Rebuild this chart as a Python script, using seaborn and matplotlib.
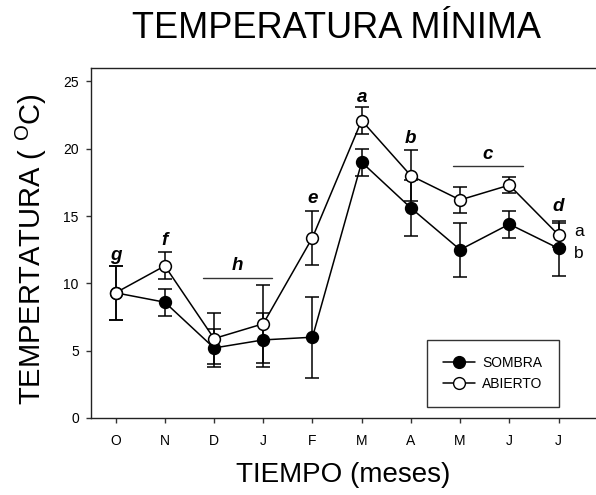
import numpy as np
import pandas as pd
import matplotlib
matplotlib.use("Agg")
import matplotlib.pyplot as plt
from matplotlib.lines import Line2D
import seaborn as sns

# Monthly minimum temperature (°C), mean ± error for each site condition
meses = ["O", "N", "D", "J", "F", "M", "A", "M", "J", "J"]
sombra = [9.3, 8.6, 5.2, 5.8, 6.0, 19.0, 15.6, 12.5, 14.4, 12.6]
sombra_err = [2.0, 1.0, 1.4, 2.0, 3.0, 1.0, 2.1, 2.0, 1.0, 2.05]
abierto = [9.3, 11.3, 5.9, 7.0, 13.4, 22.1, 18.0, 16.2, 17.3, 13.6]
abierto_err = [2.0, 1.0, 1.9, 2.9, 2.0, 1.0, 1.9, 0.95, 0.6, 0.9]

# Significance letters per month (bold italic) and between-site letters
letras = ["g", "f", "h", "h", "e", "a", "b", "c", "c", "d"]
letras_y = [12.1, 13.2, 11.3, 11.3, 16.3, 23.8, 20.8, 19.6, 19.6, 15.7]

x = np.arange(len(meses))
df = pd.DataFrame({
    "x": np.concatenate([x, x]),
    "temp": sombra + abierto,
    "err": sombra_err + abierto_err,
    "sitio": ["SOMBRA"] * len(x) + ["ABIERTO"] * len(x),
})

sns.set_style("ticks")
plt.rcParams["font.family"] = ["Liberation Sans", "DejaVu Sans"]
plt.rcParams["mathtext.fontset"] = "custom"
plt.rcParams["mathtext.rm"] = "Liberation Sans"
for k in ["text.color", "axes.labelcolor", "xtick.color", "ytick.color"]:
    plt.rcParams[k] = "black"

fig = plt.figure(figsize=(5.96, 4.95), dpi=100)
ax = fig.add_axes([0.1527, 0.1556, 0.867, 0.707])

# error bars underneath the markers
for sitio in ["SOMBRA", "ABIERTO"]:
    d = df[df["sitio"] == sitio]
    ax.errorbar(d["x"], d["temp"], yerr=d["err"], fmt="none", ecolor="black",
                elinewidth=1.1, capsize=5, capthick=1.1, zorder=2)

estilos = {"SOMBRA": "black", "ABIERTO": "white"}
for sitio in ["SOMBRA", "ABIERTO"]:
    d = df[df["sitio"] == sitio]
    sns.lineplot(data=d, x="x", y="temp", ax=ax, color="black", lw=1.1,
                 marker="o", markersize=8.5, markerfacecolor=estilos[sitio],
                 markeredgecolor="black", markeredgewidth=1.1,
                 legend=False, zorder=3)

# month-group letters
solo = {"h": (1.78, 3.18), "c": (6.86, 8.27)}
vistos = set()
for xi, (l, ly) in enumerate(zip(letras, letras_y)):
    if l in solo:
        if l in vistos:
            continue
        vistos.add(l)
        x0, x1 = solo[l]
        ax.text((x0 + x1) / 2, ly, l, ha="center", va="center",
                fontsize=13.5, fontweight="bold", fontstyle="italic")
        ax.plot([x0, x1], [ly - 0.9, ly - 0.9], color="#333333", lw=1.0)
    else:
        ax.text(xi, ly, l, ha="center", va="center",
                fontsize=13.5, fontweight="bold", fontstyle="italic")

# site difference in the final month
ax.text(9.32, abierto[-1] + 0.25, "a", ha="left", va="center", fontsize=12.5)
ax.text(9.32, sombra[-1] - 0.35, "b", ha="left", va="center", fontsize=12.5)

ax.set_xlim(-0.5, 10)
ax.set_ylim(0, 26)
ax.set_xticks(x)
ax.set_xticklabels(meses)
ax.set_yticks([0, 5, 10, 15, 20, 25])
ax.tick_params(axis="both", labelsize=10, length=3.8, width=1,
               color="#333333", direction="out")
ax.tick_params(axis="x", pad=8)
ax.tick_params(axis="y", pad=5)
for s in ["left", "bottom", "top"]:
    ax.spines[s].set_color("#222222")
    ax.spines[s].set_linewidth(1.0)
ax.spines["right"].set_visible(False)

ax.set_xlabel("")
ax.set_ylabel("")
fig.text(343 / 596, 1 - 475 / 495, "TIEMPO (meses)", fontsize=20,
         ha="center", va="center")
fig.text(31 / 596, 1 - 249 / 495, "TEMPERTATURA ( $^{\\mathrm{O}}$C)",
         fontsize=21, rotation=90, ha="center", va="center")
fig.text(336 / 596, 1 - 28 / 495, "TEMPERATURA MÍNIMA", fontsize=26,
         ha="center", va="center")

handles = [
    Line2D([], [], color="black", lw=1.1, marker="o", markersize=8.5,
           markerfacecolor="black", markeredgecolor="black"),
    Line2D([], [], color="black", lw=1.1, marker="o", markersize=8.5,
           markerfacecolor="white", markeredgecolor="black"),
]
leg = ax.legend(handles, ["SOMBRA", "ABIERTO"], loc="lower left",
                bbox_to_anchor=(0.650, 0.031, 0.2555, 0.19), mode="expand",
                borderaxespad=0, fontsize=10, frameon=True, fancybox=False,
                handlelength=2.3, borderpad=1.15, labelspacing=0.5,
                handletextpad=0.55)
leg.get_frame().set_edgecolor("black")
leg.get_frame().set_linewidth(1.0)

fig.savefig("out.png", dpi=100)
